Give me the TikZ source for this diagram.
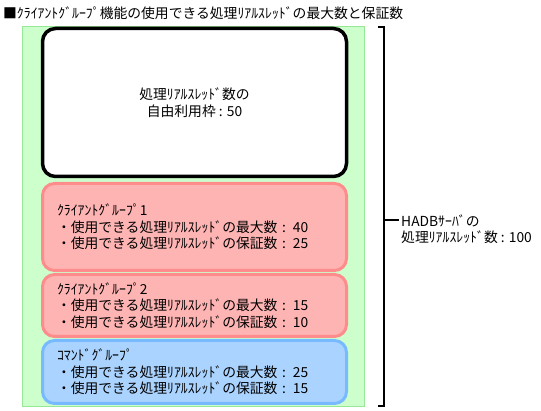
\documentclass[tikz,border=0pt]{standalone}
\usepackage{fontspec}
\setmainfont{Noto Sans CJK JP}
\usepackage{tikz}
\usetikzlibrary{calc}
\definecolor{areagreen}{RGB}{204,255,204}
\definecolor{areaedge}{RGB}{150,232,150}
\definecolor{grpred}{RGB}{255,180,180}
\definecolor{grpredge}{RGB}{255,140,140}
\definecolor{cmdblue}{RGB}{170,212,255}
\definecolor{cmdedge}{RGB}{120,186,255}

\begin{document}
\begin{tikzpicture}[
    x=1pt, y=-1pt,
    every node/.style={color=black, font=\fontsize{13.8}{16.5}\selectfont},
    freebox/.style={draw=black, line width=3.5pt, fill=white, rounded corners=13pt,
        minimum width=304pt, align=center, inner sep=0pt},
    grpbox/.style={line width=3pt, rounded corners=12pt, minimum width=304pt,
        inner xsep=14.5pt, inner ysep=0pt, text width=275pt, align=left},
    client box/.style={grpbox, draw=grpredge, fill=grpred},
    command box/.style={grpbox, draw=cmdedge, fill=cmdblue},
    bracket line/.style={line width=1.2pt}
    ]
    \useasboundingbox (0,0) rectangle (541,411);

    % title
    \node[anchor=west, inner sep=0pt] (title) at (3,13)
        {■ｸﾗｲｱﾝﾄｸﾞﾙｰﾌﾟ機能の使用できる処理ﾘｱﾙｽﾚｯﾄﾞの最大数と保証数};
    % area of the HADB server
    \draw[draw=areaedge, fill=areagreen, line width=1.5pt] (22.5,26.5) rectangle (364.5,406.5);
    % free frame
    \node[freebox, minimum height=148pt] (free) at (194.5,102.5)
        {処理ﾘｱﾙｽﾚｯﾄﾞ数の\\自由利用枠 : 50};
    % groups
    \node[client box, minimum height=87pt] (client1) at (194.5,227)
        {ｸﾗｲｱﾝﾄｸﾞﾙｰﾌﾟ1\\
         ・使用できる処理ﾘｱﾙｽﾚｯﾄﾞの最大数 : 40\\
         ・使用できる処理ﾘｱﾙｽﾚｯﾄﾞの保証数 : 25};
    \node[client box, minimum height=62pt] (client2) at (194.5,305.5)
        {ｸﾗｲｱﾝﾄｸﾞﾙｰﾌﾟ2\\
         ・使用できる処理ﾘｱﾙｽﾚｯﾄﾞの最大数 : 15\\
         ・使用できる処理ﾘｱﾙｽﾚｯﾄﾞの保証数 : 10};
    \node[command box, minimum height=63pt] (command) at (194.5,372)
        {ｺﾏﾝﾄﾞｸﾞﾙｰﾌﾟ\\
         ・使用できる処理ﾘｱﾙｽﾚｯﾄﾞの最大数 : 25\\
         ・使用できる処理ﾘｱﾙｽﾚｯﾄﾞの保証数 : 15};
    % bracket and label
    \draw[bracket line] (378,27) -- (384,27) -- (384,406) -- (378,406);
    \coordinate (brk) at (384,220);
    \node[anchor=west, align=left, inner sep=0pt] (hadb) at (401,229)
        {HADBｻｰﾊﾞの\\処理ﾘｱﾙｽﾚｯﾄﾞ数 : 100};
    \draw[bracket line] (brk) -- ($(brk -| hadb.west)+(-2,0)$);
\end{tikzpicture}
\end{document}
